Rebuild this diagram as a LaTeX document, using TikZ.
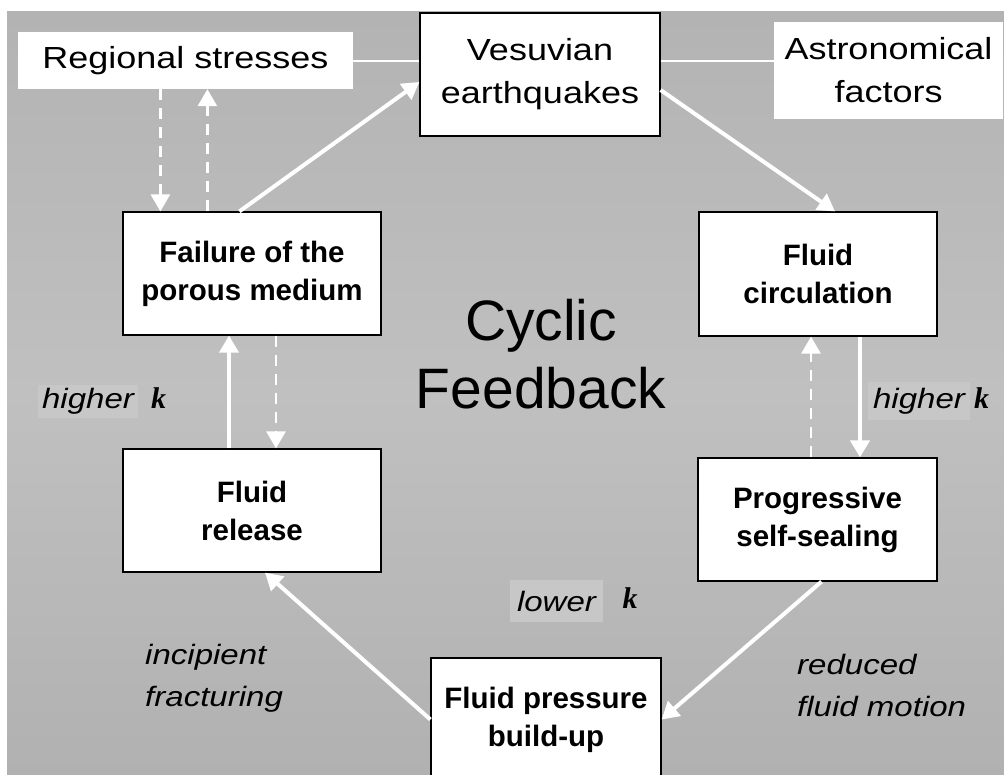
\documentclass[tikz,border=0pt]{standalone}
\usepackage{fontspec}
\setmainfont{Liberation Sans}
\newfontfamily\widefont[FakeStretch=1.18]{Liberation Sans}
\newfontfamily\kfont{Liberation Serif}
\usetikzlibrary{arrows.meta}

\definecolor{bgtop}{HTML}{B3B3B3}
\definecolor{bgmid}{HTML}{C0C0C0}
\definecolor{bgbot}{HTML}{B1B1B1}
\definecolor{patch}{HTML}{C7C7C7}

\tikzset{
  box/.style={draw=black, line width=1.2pt, fill=white, align=center, inner sep=0pt},
  plainbox/.style={fill=white, align=center, inner sep=0pt},
  boldtext/.style={font=\fontsize{29.5}{38}\selectfont\bfseries},
  widetext/.style={font=\widefont\fontsize{30.5}{43}\selectfont},
  note/.style={font=\widefont\fontsize{28}{42}\selectfont\itshape, align=left, inner sep=0pt},
  kletter/.style={font=\kfont\fontsize{30}{30}\selectfont\bfseries\itshape, inner sep=0pt},
  solidarrow/.style={draw=white, line width=4pt, -{Triangle[width=19pt,length=17pt]}},
  dasharrow/.style={solidarrow, line width=2.8pt, dash pattern=on 11pt off 8pt},
  link/.style={draw=white, line width=2pt},
}

\begin{document}
\begin{tikzpicture}[x=1pt, y=-1pt]
    % Frame and background
    % ---------------------
    \useasboundingbox (0,0) rectangle (1004,774);
    \clip (0,0) rectangle (1004,774);
    \fill[white] (0,0) rectangle (1004,774);
    \shade[top color=bgtop, bottom color=bgbot, middle color=bgmid] (7,11) rectangle (1004,774);

    % Top row
    % ---------------------
    \node[plainbox, widetext, minimum width=335pt, minimum height=57pt] (reg) at (185.5,60.5) {Regional stresses};
    \node[box, widetext, minimum width=240pt, minimum height=123pt] (ves) at (540,74.5) {Vesuvian\\earthquakes};
    \node[plainbox, widetext, minimum width=229pt, minimum height=97pt] (astro) at (888.5,70.5) {Astronomical\\factors};
    \draw[link] (reg.east) -- (ves.west |- reg.east);
    \draw[link] (ves.east |- reg.east) -- (astro.west |- reg.east);

    % Cycle boxes
    % ---------------------
    \node[box, boldtext, minimum width=258pt, minimum height=123pt] (fail) at (252,273.5) {Failure of the\\porous medium};
    \node[box, boldtext, minimum width=238pt, minimum height=124pt] (circ) at (818,274) {Fluid\\circulation};
    \node[box, boldtext, minimum width=258pt, minimum height=123pt] (rel) at (252,510.5) {Fluid\\release};
    \node[box, boldtext, minimum width=239pt, minimum height=123pt] (seal) at (817.5,519.5) {Progressive\\self-sealing};
    \node[box, boldtext, minimum width=230pt, minimum height=123pt] (press) at (546,719.5) {Fluid pressure\\build-up};

    \node[font=\fontsize{57}{68}\selectfont, align=center, inner sep=0pt] (title) at (541,354) {Cyclic\\Feedback};

    % Labels
    % ---------------------
    \node[note, fill=patch, minimum width=100pt, minimum height=33pt] (hkl) at (88,401.5) {higher};
    \node[kletter] (hklk) at (158.5,398) {k};
    \node[note, fill=patch, minimum width=102pt, minimum height=38pt] (hkr) at (919,401) {higher};
    \node[kletter] (hkrk) at (981.5,398) {k};
    \node[note, fill=patch, minimum width=93pt, minimum height=42pt] (lk) at (556.5,601) {lower};
    \node[kletter] (lkk) at (630,598) {k};
    \node[note, anchor=west] (frac) at (145,678) {incipient\\fracturing};
    \node[note, anchor=west] (motion) at (797,685) {reduced\\fluid motion};

    % Connectors
    % ---------------------
    \coordinate (d1) at ([xshift=38pt]fail.north west);
    \coordinate (u1) at ([xshift=85pt]fail.north west);
    \draw[dasharrow] (d1 |- reg.south) -- (d1);
    \draw[dasharrow] (u1) -- (u1 |- reg.south);
    \draw[solidarrow] ([xshift=117pt]fail.north west) -- ([yshift=-7.5pt]ves.west);
    \draw[solidarrow] ([yshift=-15.5pt]ves.east) -- ([xshift=17pt]circ.north);

    \coordinate (c1) at ([xshift=42pt]circ.south);
    \coordinate (c2) at ([xshift=-7pt]circ.south);
    \draw[solidarrow] (c1) -- (c1 |- seal.north);
    \draw[dasharrow] (c2 |- seal.north) -- (c2);

    \draw[solidarrow] ([xshift=4pt]seal.south) -- (press.east);
    \draw[solidarrow] (press.west) -- ([xshift=13pt]rel.south);

    \coordinate (r1) at ([xshift=-23pt]rel.north);
    \coordinate (r2) at ([xshift=24pt]fail.south);
    \draw[solidarrow] (r1) -- (r1 |- fail.south);
    \draw[dasharrow] (r2) -- (r2 |- rel.north);
\end{tikzpicture}
\end{document}
